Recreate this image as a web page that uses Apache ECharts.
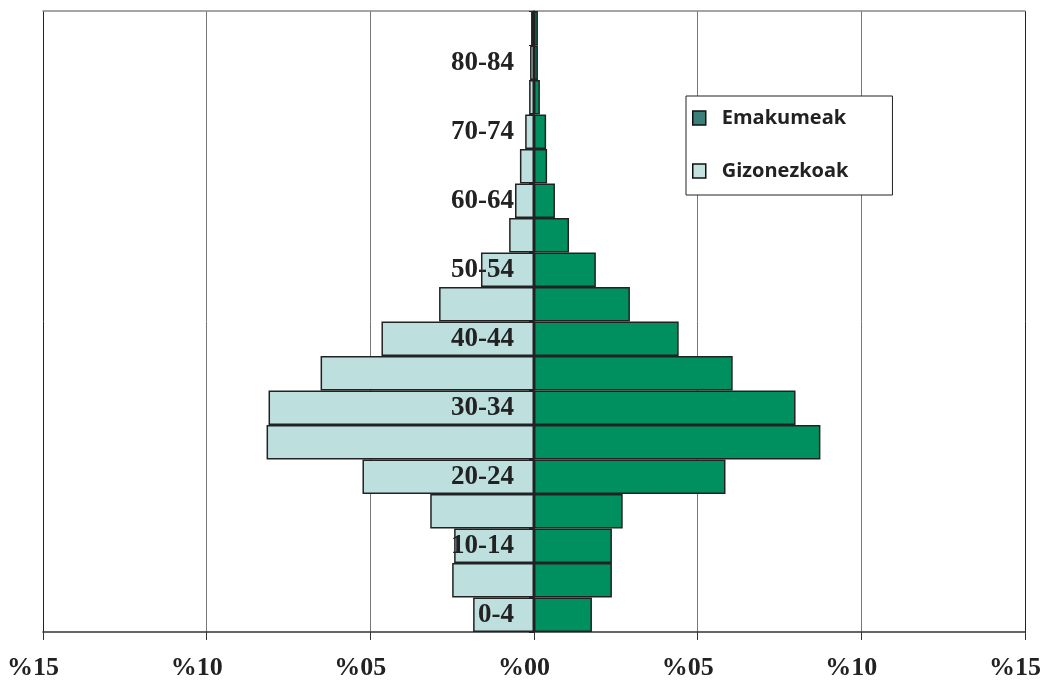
<!DOCTYPE html>
<html>
<head>
<meta charset="utf-8">
<script src="https://cdn.jsdelivr.net/npm/echarts@6/dist/echarts.min.js"></script>
<style>html,body{margin:0;padding:0;background:#fff}#c{width:1042px;height:681px}</style>
</head>
<body>
<div id="c"></div>
<script>
const ageGroups = ['0-4','5-9','10-14','15-19','20-24','25-29','30-34','35-39','40-44','45-49','50-54','55-59','60-64','65-69','70-74','75-79','80-84','85+'];
const gizonezkoak = [1.86, 2.5, 2.44, 3.17, 5.24, 8.17, 8.11, 6.52, 4.66, 2.9, 1.62, 0.76, 0.58, 0.43, 0.27, 0.15, 0.12, 0.09];
const emakumeak = [1.77, 2.38, 2.38, 2.71, 5.85, 8.75, 7.99, 6.07, 4.42, 2.93, 1.89, 1.07, 0.64, 0.40, 0.37, 0.18, 0.12, 0.12];
const xTicks = [-15, -10, -5, 0, 5, 10, 15];

const W = 1042, GL = 43, GR = 17;
const halfW = (W - GL - GR) / 2;

const chart = echarts.init(document.getElementById('c'), null, {renderer: 'canvas'});
const serif = '"Liberation Serif", "DejaVu Serif", serif';
chart.setOption({
  animation: false,
  backgroundColor: '#fff',
  grid: {left: GL, right: GR, top: 11, bottom: 49, containLabel: false, outerBoundsMode: 'none'},
  legend: {
    orient: 'vertical',
    left: 686, top: 96,
    backgroundColor: '#fff',
    borderColor: '#222', borderWidth: 1,
    padding: [12, 44, 14, 6],
    itemGap: 33,
    itemWidth: 13, itemHeight: 14,
    icon: 'rect',
    textStyle: {fontFamily: '"Open Sans", sans-serif', fontWeight: 'bold', fontSize: 20, color: '#222', padding: [0, 0, 0, 11]},
    data: [
      {name: 'Emakumeak', itemStyle: {color: '#3b7f7b', borderColor: '#111', borderWidth: 1.5}},
      {name: 'Gizonezkoak', itemStyle: {color: '#c4e2e0', borderColor: '#111', borderWidth: 1.5}}
    ]
  },
  xAxis: [{
    type: 'value', min: xTicks[0], max: xTicks[xTicks.length - 1], interval: 5,
    axisLine: {show: true, onZero: false, lineStyle: {color: '#333', width: 1.5}},
    axisTick: {show: true, length: 8, lineStyle: {color: '#333'}},
    splitLine: {show: true, lineStyle: {color: ['#222', '#777', '#777', '#777', '#777', '#777', '#222'], width: 1}},
    axisLabel: {
      margin: 23,
      padding: [0, 20, 0, 0],
      fontFamily: serif, fontWeight: 'bold', fontSize: 26, color: '#222',
      formatter: v => '%' + String(Math.abs(v)).padStart(2, '0')
    }
  }, {
    type: 'value', position: 'top', min: xTicks[0], max: xTicks[xTicks.length - 1], interval: 5,
    axisLine: {show: true, onZero: false, lineStyle: {color: '#888', width: 1.5}},
    axisTick: {show: false}, axisLabel: {show: false}, splitLine: {show: false}
  }],
  yAxis: {
    type: 'category',
    data: ageGroups,
    position: 'left',
    offset: -halfW,
    z: 10,
    axisLine: {show: true, onZero: false, lineStyle: {color: '#222', width: 1.5}},
    axisTick: {show: true, length: 5, interval: 0, lineStyle: {color: '#222'}},
    axisLabel: {
      interval: 1, margin: 20,
      padding: [5, 0, 0, 0],
      fontFamily: serif, fontWeight: 'bold', fontSize: 27, color: '#222'
    }
  },
  series: [{
    name: 'Gizonezkoak', type: 'bar', stack: 'p',
    data: gizonezkoak.map(v => -v),
    barCategoryGap: 0,
    itemStyle: {color: '#bde0de', borderColor: '#222', borderWidth: 1.5},
    z: 2
  }, {
    name: 'Emakumeak', type: 'bar', stack: 'p',
    data: emakumeak,
    barCategoryGap: 0,
    itemStyle: {color: '#009060', borderColor: '#222', borderWidth: 1.5},
    z: 2
  }]
});
</script>
</body>
</html>
